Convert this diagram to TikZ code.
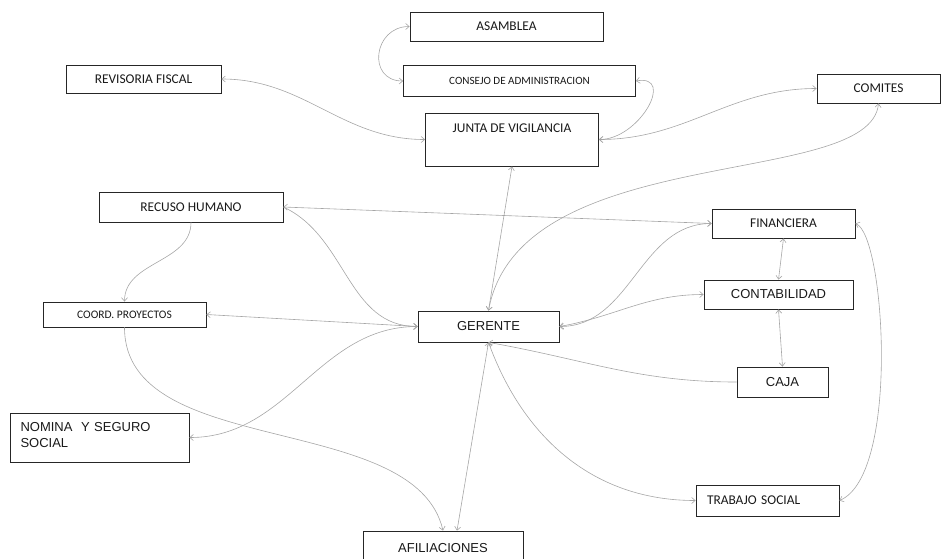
\documentclass[tikz,border=0pt]{standalone}
\usepackage{fontspec}
\newfontfamily\calibrifont{Carlito}
\newfontfamily\arialfont{Liberation Sans}
\usepackage{tikz}
\usetikzlibrary{arrows.meta}

\begin{document}
\begin{tikzpicture}[x=1pt,y=1pt,>={Straight Barb[length=3.5pt,width=6pt]}]
    \tikzstyle{box}=[draw=black!85,line width=0.8pt,rectangle,inner sep=0pt,text=black!90]
    \tikzstyle{cal}=[font=\calibrifont\fontsize{13.4}{16}\selectfont]
    \tikzstyle{ari}=[font=\arialfont\fontsize{13}{16}\selectfont]
    \tikzstyle{link}=[draw=black!35,line width=0.6pt]
    \path[use as bounding box,clip] (0,0) rectangle (942,-558);
    \node[box,cal,minimum width=193pt,minimum height=29pt] (O_asamblea) at (506.5,-26.5) {ASAMBLEA};
    \node[box,cal,font=\calibrifont\fontsize{11.1}{13}\selectfont,minimum width=232pt,minimum height=31pt] (O_consejo) at (519.5,-81) {CONSEJO DE ADMINISTRACION};
    \node[box,cal,minimum width=173pt,text height=19pt,text depth=34pt] (O_junta) at (512,-139.5) {JUNTA DE VIGILANCIA};
    \node[box,cal,minimum width=155pt,minimum height=28pt] (O_revisoria) at (143.5,-79) {REVISORIA FISCAL};
    \node[box,cal,minimum width=123pt,minimum height=29pt] (O_comites) at (878.5,-88.5) {COMITES};
    \node[box,cal,minimum width=184pt,minimum height=30pt] (O_recurso) at (191,-207) {RECUSO HUMANO};
    \node[box,cal,minimum width=143pt,minimum height=29pt] (O_financiera) at (783.5,-223.5) {FINANCIERA};
    \node[box,ari,minimum width=149pt,minimum height=29pt] (O_contabilidad) at (778.5,-294.5) {CONTABILIDAD};
    \node[box,cal,font=\calibrifont\fontsize{11.5}{13}\selectfont,minimum width=163pt,minimum height=25pt] (O_coord) at (124.5,-314.5) {COORD. PROYECTOS};
    \node[box,ari,minimum width=141pt,minimum height=31pt] (O_gerente) at (488.5,-326.5) {GERENTE};
    \node[box,ari,minimum width=91pt,minimum height=30pt] (O_caja) at (782.5,-382) {CAJA};
    \node[box,ari,align=left,text width=158pt,inner xsep=10.5pt,text height=18pt,text depth=31pt] (O_nomina) at (99.5,-437.5) {NOMINA~ Y SEGURO\\SOCIAL};
    \node[box,cal,align=left,text width=121pt,inner xsep=11pt,minimum height=31pt] (O_trabajo) at (767.5,-500.5) {TRABAJO SOCIAL};
    \node[box,ari,minimum width=160pt,minimum height=34pt] (O_afiliaciones) at (443,-548) {AFILIACIONES};
    % organos de direccion
    \draw[link,<->] (O_asamblea.west) to[out=180,in=180,looseness=1.7] (O_consejo.west);
    \draw[link,<->] (O_consejo.east) to[out=10,in=0,looseness=1.5] (O_junta.east);
    \draw[link,<->] (O_revisoria.east) to[out=0,in=180] (O_junta.west);
    \draw[link,<->] (O_junta.east) to[out=0,in=180] (O_comites.west);
    \draw[link,<->] (O_comites.south) .. controls (870,-190) and (520,-140) .. (O_gerente.north);
    \draw[link,<->] (O_junta.south) -- (O_gerente.north);
    % lado izquierdo
    \draw[link,<->] (O_recurso.east) -- (O_financiera.west);
    \draw[link,->] (O_recurso.east) to[out=-25,in=180] (O_gerente.west);
    \draw[link,->] (O_recurso.south) to[out=-90,in=90] (O_coord.north);
    \draw[link,<->] (O_coord.east) -- (O_gerente.west);
    \draw[link,<->] (O_nomina.east) to[out=0,in=180] (O_gerente.west);
    \draw[link,->] (O_coord.south) .. controls (124.5,-460) and (415,-410) .. (O_afiliaciones.north);
    \draw[link,<->] (O_gerente.south) -- ([xshift=14pt]O_afiliaciones.north);
    % lado derecho
    \draw[link,<->] (O_gerente.south) to[out=-70,in=180] (O_trabajo.west);
    \draw[link,->] (O_caja.west) to[out=180,in=-10] (O_gerente.south);
    \draw[link,<->] (O_financiera.west) to[out=180,in=0] (O_gerente.east);
    \draw[link,<->] (O_contabilidad.west) to[out=180,in=10] (O_gerente.east);
    \draw[link,<->] (O_financiera.south) -- (O_contabilidad.north);
    \draw[link,<->] (O_contabilidad.south) -- (O_caja.north);
    \draw[link,<->] (O_financiera.east) .. controls (885,-235) and (900,-475) .. (O_trabajo.east);
\end{tikzpicture}
\end{document}
